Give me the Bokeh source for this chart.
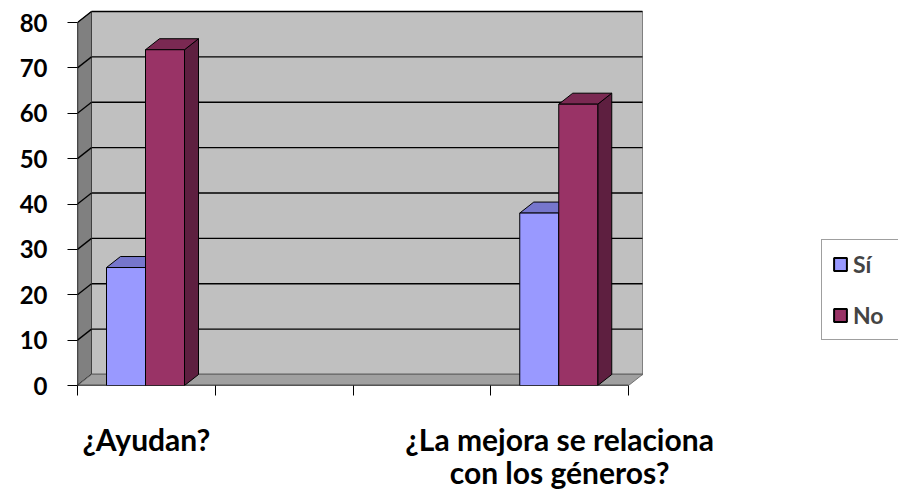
import numpy as np
from bokeh.plotting import figure
from bokeh.models import Range1d, FixedTicker, Legend, LegendItem
from bokeh.embed import file_html
from bokeh.resources import INLINE

# ---------------- data ----------------
categories = ["¿Ayudan?", "", "", "¿La mejora se relaciona\ncon los géneros?"]
series_names = ["Sí", "No"]
si_values = [26, np.nan, np.nan, 38]
no_values = [74, np.nan, np.nan, 62]
y_ticks = [0, 10, 20, 30, 40, 50, 60, 70, 80]

# ---------------- styles ----------------
front_colors = ["#9999FF", "#993366"]
top_colors = ["#7676CC", "#7A2952"]
side_colors = ["#5C5C99", "#5E1F40"]
FONT = "Lato"

SLOT_PX = 137.75
PX_PER_UNIT = 363 / 80.0
DX = 14 / SLOT_PX
DY = 11 / PX_PER_UNIT
BAR_OFF = 29 / SLOT_PX
BAR_W = 39 / SLOT_PX

n = len(categories)
ymax = y_ticks[-1]
x_start = -0.5
W, H = 898, 493
LEFT, BOTTOM = 77, 108
frame_w = W - LEFT
frame_h = H - BOTTOM

p = figure(width=W, height=H, output_backend="svg", toolbar_location=None,
           x_range=Range1d(x_start, x_start + frame_w / SLOT_PX),
           y_range=Range1d(0, frame_h / PX_PER_UNIT),
           min_border_left=LEFT, min_border_right=0, min_border_top=0, min_border_bottom=BOTTOM)
p.outline_line_color = None
p.xgrid.visible = False
p.ygrid.visible = False
p.background_fill_color = "white"

left_edge = x_start
right_edge = x_start + n

# back wall
p.quad(left=[left_edge + DX], right=[right_edge + DX], bottom=[DY], top=[ymax + DY],
       fill_color="#C0C0C0", line_color="#808080", line_width=1)
# gridlines on back wall
gx0 = [left_edge + DX] * len(y_ticks)
gx1 = [right_edge + DX] * len(y_ticks)
gy = [t + DY for t in y_ticks]
p.segment(x0=gx0, y0=gy, x1=gx1, y1=gy, line_color="black", line_width=1.3)
# left side wall
p.patch([left_edge, left_edge + DX, left_edge + DX, left_edge], [0, DY, ymax + DY, ymax],
        fill_color="#808080", line_color="#404040", line_width=1)
# diagonal gridlines on side wall
p.segment(x0=[left_edge] * len(y_ticks), y0=y_ticks,
          x1=[left_edge + DX] * len(y_ticks), y1=gy, line_color="black", line_width=1.3)
# floor
p.patch([left_edge, right_edge, right_edge + DX, left_edge + DX], [0, 0, DY, DY],
        fill_color="#A0A0A0", line_color="#707070", line_width=1)
# front axis lines
p.segment(x0=[left_edge], y0=[0], x1=[left_edge], y1=[ymax], line_color="black", line_width=1.3)
p.segment(x0=[left_edge], y0=[0], x1=[right_edge], y1=[0], line_color="black", line_width=1.3)

# bars
legend_items = []
for s, vals in enumerate([si_values, no_values]):
    fx0, fx1, ftop = [], [], []
    txs, tys, sxs, sys_ = [], [], [], []
    for i, v in enumerate(vals):
        if v is None or np.isnan(v):
            continue
        x0 = i - 0.5 + BAR_OFF + s * BAR_W
        x1 = x0 + BAR_W
        fx0.append(x0); fx1.append(x1); ftop.append(v)
        txs.append([x0, x1, x1 + DX, x0 + DX]); tys.append([v, v, v + DY, v + DY])
        sxs.append([x1, x1 + DX, x1 + DX, x1]); sys_.append([0, DY, v + DY, v])
    p.patches(sxs, sys_, fill_color=side_colors[s], line_color="black", line_width=1)
    p.patches(txs, tys, fill_color=top_colors[s], line_color="black", line_width=1)
    p.quad(left=fx0, right=fx1, bottom=[0] * len(fx0), top=ftop,
           fill_color=front_colors[s], line_color="black", line_width=1)
    dummy = p.quad(left=[np.nan], right=[np.nan], bottom=[np.nan], top=[np.nan],
                   fill_color=front_colors[s], line_color="black", line_width=2)
    legend_items.append(LegendItem(label=series_names[s], renderers=[dummy]))

# axes
xa = p.xaxis[0]
xa.ticker = FixedTicker(ticks=list(range(n)), minor_ticks=[x_start + k for k in range(n + 1)])
xa.major_label_overrides = {i: c for i, c in enumerate(categories)}
xa.major_tick_line_color = None
xa.major_tick_out = 0
xa.major_tick_in = 0
xa.minor_tick_line_color = "black"
xa.minor_tick_out = 10
xa.minor_tick_in = 0
xa.axis_line_color = None
xa.major_label_text_font = FONT
xa.major_label_text_font_style = "bold"
xa.major_label_text_font_size = "30px"
xa.major_label_text_color = "black"
xa.major_label_text_line_height = 0.944
xa.major_label_standoff = 25

ya = p.yaxis[0]
ya.ticker = FixedTicker(ticks=y_ticks)
ya.axis_line_color = None
ya.major_tick_line_color = "black"
ya.major_tick_out = 10
ya.major_tick_in = 0
ya.minor_tick_line_color = None
ya.major_label_text_font = FONT
ya.major_label_text_font_style = "bold"
ya.major_label_text_font_size = "24px"
ya.major_label_text_color = "black"
ya.major_label_standoff = 20

legend = Legend(items=legend_items, location=(744, 45))
legend.label_text_font = FONT
legend.label_text_font_style = "bold"
legend.label_text_font_size = "23px"
legend.glyph_width = 16
legend.glyph_height = 16
legend.label_standoff = 5
legend.label_height = 20
legend.label_width = 60
legend.spacing = 23
legend.padding = 10
legend.margin = 0
legend.border_line_color = "#404040"
legend.border_line_width = 1.5
legend.background_fill_color = "white"
legend.background_fill_alpha = 1.0
p.add_layout(legend)

open("out.html", "w").write(file_html(p, INLINE))
